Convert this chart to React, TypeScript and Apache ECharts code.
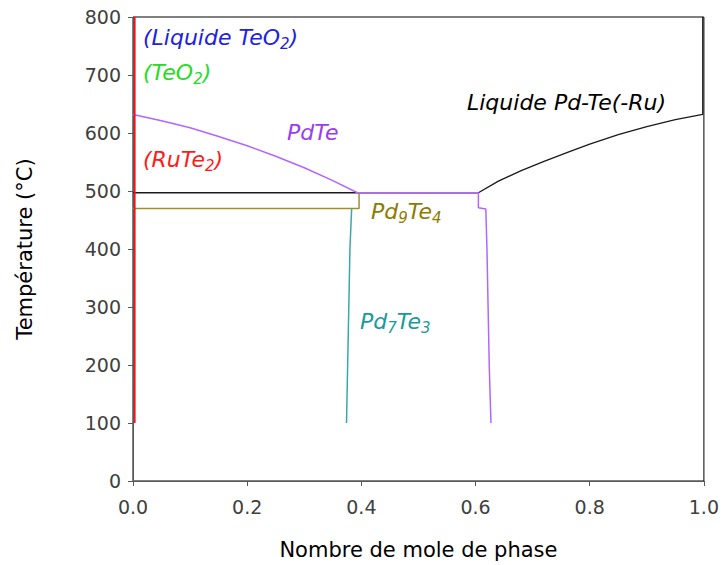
import React, { useEffect, useRef } from "react";
import * as echarts from "echarts";

const xTickLabels = ["0.0", "0.2", "0.4", "0.6", "0.8", "1.0"];
const yTickLabels = ["0", "100", "200", "300", "400", "500", "600", "700", "800"];

// [fraction, temperature]
const liquidPdTe: number[][] = [
  [0, 497], [0.605, 497], [0.64, 517], [0.68, 535], [0.72, 551], [0.76, 566],
  [0.8, 581], [0.85, 597], [0.9, 611], [0.95, 623], [0.998, 632], [0.998, 800],
];
const pdTe: number[][] = [
  [0, 632], [0.05, 621], [0.1, 609], [0.15, 594], [0.2, 578], [0.25, 560],
  [0.3, 540], [0.35, 518], [0.393, 497], [0.605, 497], [0.605, 471], [0.618, 469],
  [0.62, 400], [0.622, 300], [0.624, 200], [0.627, 100],
];
const pd9Te4: number[][] = [[0, 470], [0.396, 470], [0.396, 497]];
const pd7Te3: number[][] = [[0.383, 470], [0.38, 400], [0.377, 250], [0.374, 100]];
const ruTe2: number[][] = [[0.003, 100], [0.003, 800]];

export default function App() {
  const ref = useRef<HTMLDivElement>(null);
  useEffect(() => {
    if (!ref.current) return;
    const chart = echarts.init(ref.current, null, { renderer: "svg" });
    const font = "DejaVu Sans";
    const label = (x: number, y: number, text: string, color: string) => ({
      type: "text",
      x,
      y,
      z: 100,
      style: {
        text,
        fill: color,
        fontFamily: font,
        fontStyle: "italic",
        fontSize: 22,
        textVerticalAlign: "middle",
        rich: {
          n: { fontSize: 22, fontStyle: "italic", fontFamily: font, fill: color, lineHeight: 28, verticalAlign: "middle" },
          s: { fontSize: 15, height: 14, lineHeight: 8, verticalAlign: "bottom", fontStyle: "italic", fontFamily: font, fill: color },
        },
      },
    });
    chart.setOption({
      animation: false,
      grid: {
        left: 133,
        right: 16,
        top: 17,
        bottom: 84,
        show: true,
        borderColor: "#000",
        borderWidth: 1,
      },
      xAxis: {
        type: "value",
        min: 0,
        max: 1,
        interval: 0.2,
        name: "Nombre de mole de phase",
        nameLocation: "middle",
        nameGap: 58,
        nameTextStyle: { fontFamily: font, fontSize: 21, color: "#000" },
        axisLine: { lineStyle: { color: "#595959", width: 1 } },
        axisTick: { inside: false, length: 5, lineStyle: { color: "#595959" } },
        axisLabel: {
          fontFamily: font,
          fontSize: 19,
          color: "#404040",
          margin: 16,
          formatter: (v: number) => xTickLabels[Math.round(v * 5)],
        },
        splitLine: { show: false },
      },
      yAxis: {
        type: "value",
        min: 0,
        max: 800,
        interval: 100,
        name: "Température (°C)",
        nameLocation: "middle",
        nameGap: 98,
        nameTextStyle: { fontFamily: font, fontSize: 21, color: "#000" },
        axisLine: { show: true, lineStyle: { color: "#595959", width: 1 } },
        axisTick: { show: true, inside: false, length: 5, lineStyle: { color: "#595959" } },
        axisLabel: {
          fontFamily: font,
          fontSize: 19,
          color: "#404040",
          margin: 12,
          formatter: (v: number) => yTickLabels[Math.round(v / 100)],
        },
        splitLine: { show: false },
      },
      series: [
        { type: "line", name: "Liquide Pd-Te(-Ru)", data: liquidPdTe, showSymbol: false, lineStyle: { color: "#1a1a1a", width: 1.3 } },
        { type: "line", name: "Pd9Te4", data: pd9Te4, showSymbol: false, lineStyle: { color: "#a38f2a", width: 1.5 } },
        { type: "line", name: "Pd7Te3", data: pd7Te3, showSymbol: false, lineStyle: { color: "#36aaa8", width: 1.5 } },
        { type: "line", name: "PdTe", data: pdTe, showSymbol: false, lineStyle: { color: "#b266ff", width: 1.5 } },
        { type: "line", name: "RuTe2", data: ruTe2, showSymbol: false, lineStyle: { color: "#ff1010", width: 1.8 } },
      ],
      graphic: [
        label(143, 37, "{n|(Liquide TeO}{s|2}{n|)}", "#2020e8"),
        label(143, 72, "{n|(TeO}{s|2}{n|)}", "#22dd22"),
        label(143, 159, "{n|(RuTe}{s|2}{n|)}", "#ff1a1a"),
        label(287, 132, "{n|PdTe}", "#9a3cf0"),
        label(467, 102, "{n|Liquide Pd-Te(-Ru)}", "#000000"),
        label(371, 211, "{n|Pd}{s|9}{n|Te}{s|4}", "#8c7b00"),
        label(360, 321, "{n|Pd}{s|7}{n|Te}{s|3}", "#1a9a9a"),
      ],
    });
    return () => chart.dispose();
  }, []);
  return <div ref={ref} style={{ width: 722, height: 565, position: "absolute", left: 0, top: 0 }} />;
}
